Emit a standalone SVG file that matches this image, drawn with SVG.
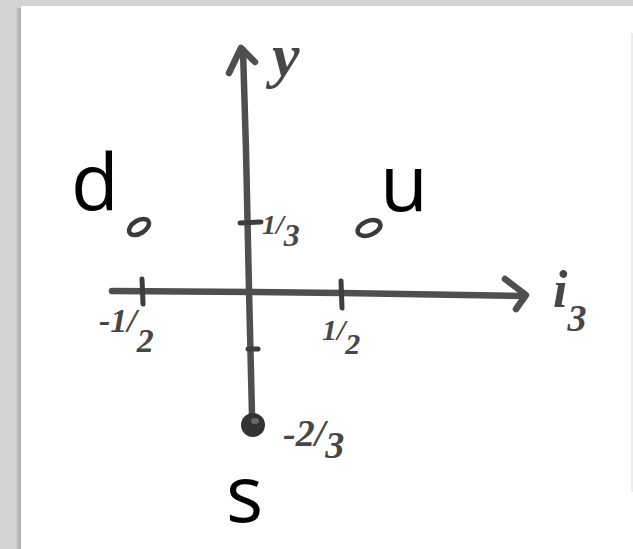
<svg xmlns="http://www.w3.org/2000/svg" width="633" height="549" viewBox="0 0 633 549">
  <defs>
    <linearGradient id="shadow" x1="0" y1="0" x2="1" y2="0">
      <stop offset="0" stop-color="#d4d4d4"/>
      <stop offset="1" stop-color="#a8a8a8"/>
    </linearGradient>
    <style>
      .ink { fill: none; stroke: #4f4f4f; stroke-width: 6.5; stroke-linecap: round; stroke-linejoin: round; }
      .tick { fill: none; stroke: #3d3d3d; stroke-width: 5; stroke-linecap: round; }
      .hand { font-family: "Liberation Serif", "DejaVu Serif", serif; font-style: italic; font-weight: bold; fill: #474747; }
      .label { font-family: "Open Sans", "Noto Sans", "Liberation Sans", sans-serif; font-size: 78px; fill: #000000; }
      .dot { fill: none; stroke: #3a3a3a; stroke-width: 4.5; }
    </style>
  </defs>

  <!-- page background -->
  <rect x="0" y="0" width="633" height="549" fill="#d4d4d4"/>
  <rect x="15" y="8" width="6" height="541" fill="url(#shadow)"/>
  <rect x="21" y="6" width="612" height="543" fill="#ffffff"/>
  <line x1="632" y1="33" x2="632" y2="492" stroke="#ececec" stroke-width="2"/>

  <!-- connectors: axes, ticks -->
  <g id="connectors">
    <!-- vertical y axis -->
    <path class="ink" d="M243,50 L246,150 L249,290 L252,415"/>
    <path class="ink" d="M229,73 L241,48 L255,62" stroke-width="7"/>
    <!-- horizontal i3 axis -->
    <path class="ink" d="M112,291 L253,292 L341,293 L524,296"/>
    <path class="ink" d="M505,279 L526,295 L516,309"/>
    <!-- ticks -->
    <line class="tick" x1="142" y1="279" x2="143" y2="304"/>
    <line class="tick" x1="341" y1="281" x2="342" y2="308"/>
    <line class="tick" x1="240" y1="223" x2="261" y2="222"/>
    <line class="tick" x1="248" y1="349" x2="258" y2="349" stroke-width="4"/>
  </g>

  <!-- axis labels (handwritten) -->
  <g id="axis-labels">
    <text class="hand" x="272" y="76" font-size="62">y</text>
    <text class="hand" x="262" y="234" font-size="28">1<tspan>/</tspan><tspan dy="12" font-size="32">3</tspan></text>
    <text class="hand" x="99" y="332" font-size="34">-1<tspan>/</tspan><tspan dy="20">2</tspan></text>
    <text class="hand" x="322" y="340" font-size="30">1<tspan>/</tspan><tspan dy="14">2</tspan></text>
    <text class="hand" x="283" y="446" font-size="38">-2<tspan>/</tspan><tspan dy="12">3</tspan></text>
    <text class="hand" x="553" y="307" font-size="52">i<tspan dy="24" font-size="38">3</tspan></text>
  </g>

  <!-- quark nodes -->
  <g id="node-d">
    <ellipse class="dot" cx="139" cy="227" rx="11" ry="6.5" transform="rotate(-32 139 227)"/>
    <text class="label" x="71" y="210">d</text>
  </g>
  <g id="node-u">
    <ellipse class="dot" cx="369" cy="228" rx="12" ry="7" transform="rotate(-22 369 228)"/>
    <text class="label" x="380" y="211">u</text>
  </g>
  <g id="node-s">
    <circle cx="253" cy="425" r="12" fill="#333333"/>
    <ellipse cx="255" cy="421" rx="4" ry="3" fill="#6a6a6a"/>
    <text class="label" x="226" y="522">s</text>
  </g>
</svg>
